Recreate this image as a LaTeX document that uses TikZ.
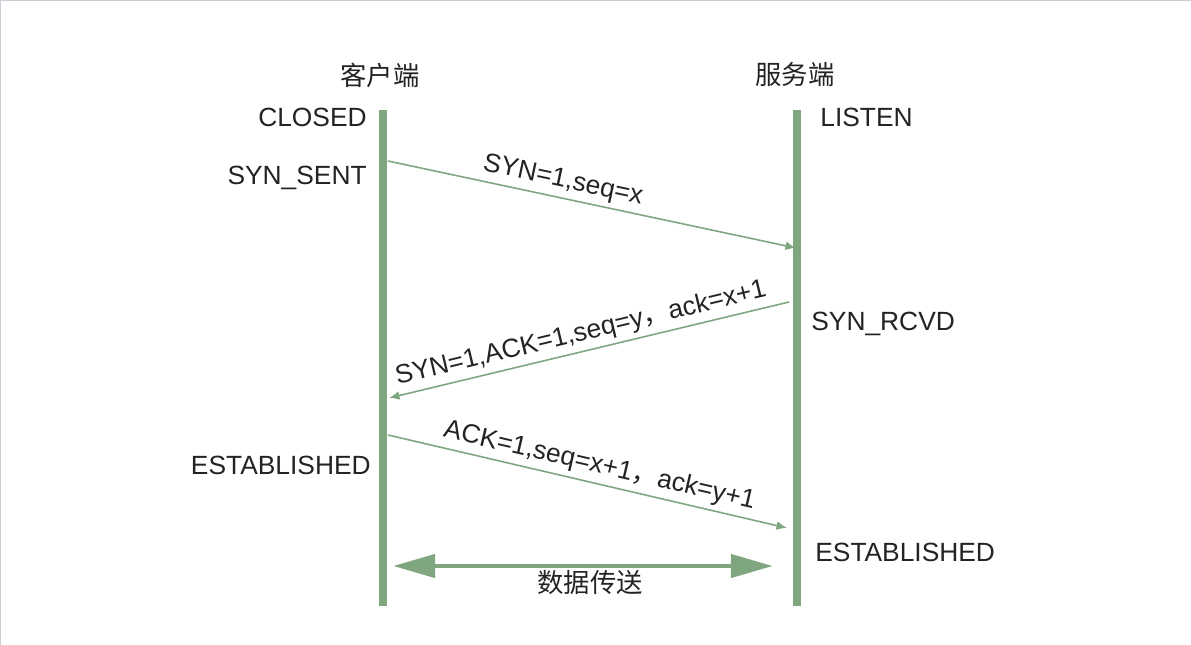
\documentclass[tikz,border=0pt]{standalone}
\usepackage{fontspec}
\setmainfont{Liberation Sans}
\newfontfamily\cjk{Noto Sans CJK SC}
\usetikzlibrary{arrows.meta,positioning}
\definecolor{lifegreen}{RGB}{128,166,128}
\definecolor{inkgray}{RGB}{35,35,35}
\definecolor{edgegray}{RGB}{205,205,215}

\begin{document}
\begin{tikzpicture}[x=0.02cm,y=-0.02cm,>=Latex]
  \tikzset{
    life/.style={draw=lifegreen,line width=4pt},
    msg/.style={draw=lifegreen,line width=0.9pt,-{Latex[length=6pt,width=5pt]}},
    datalink/.style={draw=lifegreen,line width=2.8pt,
                     {Triangle[length=24pt,width=13pt]}-{Triangle[length=24pt,width=13pt]}},
    state/.style={font=\fontsize{15}{18}\selectfont,text=inkgray,inner sep=0pt},
    cn/.style={font=\cjk\fontsize{15}{18}\selectfont,text=inkgray,inner sep=0pt},
    lab/.style={font=\fontsize{15}{18}\selectfont,text=inkgray,sloped,above,inner sep=2.5pt}
  }
  \useasboundingbox (0,0) rectangle (1191,645);
  \draw[edgegray,line width=0.6pt] (0.5,645) -- (0.5,0.5) -- (1191,0.5);
  % lifelines
  \coordinate (ctop) at (383,110);
  \coordinate (cbot) at (383,606);
  \coordinate (stop) at (797,110);
  \coordinate (sbot) at (797,606);
  \draw[life] (ctop) -- (cbot);
  \draw[life] (stop) -- (sbot);
  \node[cn] (client) at (380,75) {客户端};
  \node[cn] (server) at (795,75) {服务端};
  % states
  \node[state,anchor=base east] (closed) at (367,126.5) {CLOSED};
  \node[state,anchor=base east] (synsent) at (367,184.5) {SYN\_SENT};
  \node[state,anchor=base east] (cestab) at (371,474.5) {ESTABLISHED};
  \node[state,anchor=base west] (listen) at (820,126.5) {LISTEN};
  \node[state,anchor=base west] (synrcvd) at (811,330.5) {SYN\_RCVD};
  \node[state,anchor=base west] (sestab) at (815,561.5) {ESTABLISHED};
  % handshake
  \coordinate (c1) at (388,161);
  \coordinate (s1) at (796,248);
  \coordinate (s2) at (789,302);
  \coordinate (c2) at (389,398);
  \coordinate (c3) at (388,435);
  \coordinate (s3) at (787,528);
  \draw[msg] (c1) -- node[lab,pos=0.42] {SYN=1,seq=x} (s1);
  \draw[msg] (s2) -- node[lab,pos=0.51] {SYN=1,ACK=1,seq=y{\cjk ，}ack=x+1} (c2);
  \draw[msg] (c3) -- node[lab,pos=0.52] {ACK=1,seq=x+1{\cjk ，}ack=y+1} (s3);
  % data
  \coordinate (dl) at (393,566);
  \coordinate (dr) at (773,566);
  \draw[datalink] (dl) -- (dr);
  \node[cn] (data) at (590,583) {数据传送};
\end{tikzpicture}
\end{document}
